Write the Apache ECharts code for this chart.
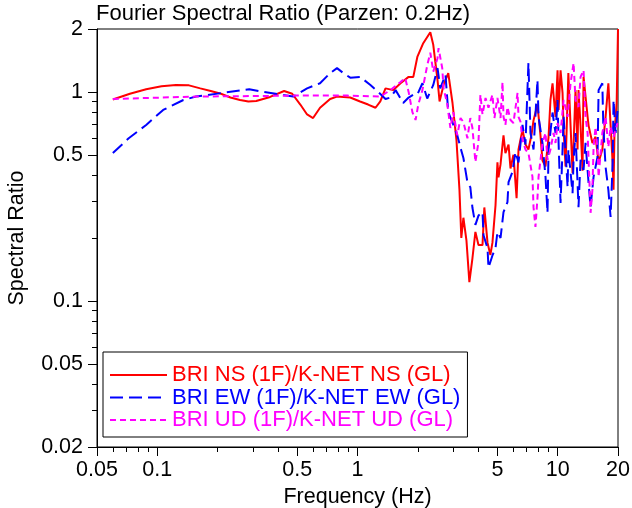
<!DOCTYPE html>
<html>
<head>
<meta charset="utf-8">
<script src="https://cdn.jsdelivr.net/npm/echarts@6/dist/echarts.min.js"></script>
<style>
html,body{margin:0;padding:0;background:#fff;}
#chart{width:632px;height:508px;}
</style>
</head>
<body>
<div id="chart"></div>
<script>
// ---- data ----
const titleText = 'Fourier Spectral Ratio (Parzen: 0.2Hz)';
const xName = 'Frequency (Hz)';
const yName = 'Spectral Ratio';
const seriesNames = ['BRI NS (1F)/K-NET NS (GL)', 'BRI EW (1F)/K-NET EW (GL)', 'BRI UD (1F)/K-NET UD (GL)'];

const xMajorTicks = [0.05, 0.1, 0.5, 1, 5, 10, 20];
const xMinorTicks = [0.06, 0.07, 0.08, 0.09, 0.2, 0.3, 0.4, 0.6, 0.7, 0.8, 0.9, 2, 3, 4, 6, 7, 8, 9];
const yMajorTicks = [0.02, 0.05, 0.1, 0.5, 1, 2];
const yMinorTicks = [0.03, 0.04, 0.06, 0.07, 0.08, 0.09, 0.2, 0.3, 0.4, 0.6, 0.7, 0.8, 0.9];

const nsFreq = [0.06, 0.073, 0.088, 0.105, 0.124, 0.144, 0.164, 0.185, 0.208, 0.232, 0.259, 0.285, 0.312, 0.366, 0.43, 0.472, 0.518, 0.56, 0.60, 0.65, 0.73, 0.79, 0.92, 1.03, 1.13, 1.23, 1.30, 1.38, 1.51, 1.64, 1.80, 1.90, 1.99, 2.13, 2.31, 2.39, 2.51, 2.57, 2.69, 2.84, 2.98, 3.12, 3.23, 3.30, 3.38, 3.50, 3.62, 3.75, 3.88, 4.02, 4.21, 4.30, 4.46, 4.61, 4.72, 4.89, 5.0, 5.06, 5.18, 5.36, 5.48, 5.68, 5.81, 6.01, 6.23, 6.37, 6.67, 6.90, 7.14, 7.39, 7.57, 7.92, 8.20, 8.39, 8.69, 9.0, 9.20, 9.42, 9.75, 9.98, 10.1, 10.33, 10.57, 10.7, 10.94, 11.3, 11.59, 11.86, 12.27, 12.56, 12.7, 13.0, 13.3, 13.46, 14.1, 14.26, 14.9, 15.45, 16.0, 16.7, 17.34, 17.9, 18.37, 18.8, 19.0, 19.2, 19.7, 20];
const nsVal  = [0.92, 0.98, 1.03, 1.065, 1.08, 1.075, 1.04, 1.01, 0.98, 0.94, 0.915, 0.90, 0.905, 0.946, 1.01, 0.98, 0.87, 0.78, 0.75, 0.84, 0.925, 0.95, 0.94, 0.90, 0.87, 0.84, 0.90, 1.04, 1.02, 1.10, 1.18, 1.18, 1.47, 1.71, 1.93, 1.68, 1.14, 0.90, 1.08, 1.23, 0.89, 0.59, 0.34, 0.20, 0.25, 0.195, 0.123, 0.16, 0.214, 0.185, 0.185, 0.28, 0.19, 0.166, 0.19, 0.287, 0.46, 0.39, 0.45, 0.62, 0.51, 0.56, 0.43, 0.50, 0.31, 0.53, 0.66, 0.56, 0.53, 0.62, 0.73, 0.87, 0.62, 0.47, 0.44, 0.61, 0.915, 1.10, 0.76, 1.27, 0.82, 1.27, 0.99, 0.66, 0.44, 1.23, 0.69, 0.41, 1.02, 0.53, 1.02, 0.69, 0.42, 1.18, 0.76, 0.69, 0.57, 0.61, 0.46, 0.53, 0.76, 1.10, 0.69, 0.46, 0.34, 0.63, 0.89, 2.0];

const ewFreq = [0.06, 0.072, 0.088, 0.107, 0.135, 0.156, 0.213, 0.288, 0.338, 0.39, 0.477, 0.56, 0.65, 0.73, 0.79, 0.85, 0.92, 1.03, 1.16, 1.27, 1.38, 1.46, 1.55, 1.60, 1.69, 1.80, 1.90, 1.99, 2.11, 2.23, 2.39, 2.51, 2.59, 2.75, 2.84, 3.01, 3.15, 3.27, 3.38, 3.54, 3.66, 3.75, 3.88, 4.02, 4.21, 4.26, 4.46, 4.51, 4.72, 4.89, 5.0, 5.18, 5.36, 5.61, 5.68, 5.94, 6.15, 6.37, 6.67, 6.90, 7.14, 7.31, 7.57, 7.92, 8.02, 8.39, 8.69, 8.89, 9.0, 9.42, 9.75, 9.98, 10.1, 10.33, 10.57, 10.7, 11.2, 11.3, 11.86, 12.0, 12.27, 12.7, 13.0, 13.46, 13.77, 14.26, 14.59, 15.1, 15.8, 16.0, 16.7, 16.9, 17.34, 17.9, 18.37, 18.8, 19.0, 19.46, 19.9];
const ewVal  = [0.51, 0.60, 0.695, 0.82, 0.915, 0.95, 0.99, 1.03, 1.0, 0.98, 0.95, 1.04, 1.10, 1.23, 1.30, 1.23, 1.17, 1.18, 1.08, 1.0, 0.925, 0.94, 1.02, 0.97, 0.885, 0.94, 0.97, 0.97, 1.10, 0.93, 1.08, 1.30, 1.04, 1.21, 0.80, 0.695, 0.62, 0.54, 0.483, 0.37, 0.35, 0.279, 0.231, 0.256, 0.266, 0.206, 0.179, 0.144, 0.165, 0.179, 0.214, 0.20, 0.266, 0.297, 0.37, 0.414, 0.516, 0.46, 0.695, 0.56, 1.375, 0.636, 0.53, 1.14, 0.76, 0.57, 0.392, 0.264, 0.53, 0.797, 0.636, 0.915, 0.57, 0.294, 0.53, 0.76, 0.35, 0.53, 0.328, 0.473, 0.636, 0.281, 0.473, 0.423, 0.57, 0.366, 0.281, 0.392, 0.488, 1.02, 1.10, 0.68, 0.437, 0.34, 0.252, 0.457, 0.915, 0.636, 0.82];

const udFreq = [0.06, 0.156, 0.494, 0.889, 1.30, 1.46, 1.64, 1.73, 1.80, 1.88, 1.95, 2.01, 2.11, 2.23, 2.31, 2.39, 2.51, 2.54, 2.65, 2.69, 2.81, 2.91, 3.01, 3.15, 3.27, 3.38, 3.54, 3.66, 3.75, 3.88, 4.02, 4.11, 4.21, 4.36, 4.51, 4.72, 4.83, 5.0, 5.18, 5.30, 5.36, 5.48, 5.61, 5.81, 6.01, 6.30, 6.37, 6.52, 6.67, 6.90, 7.14, 7.48, 7.57, 7.74, 7.92, 8.02, 8.39, 8.69, 8.89, 9.20, 9.53, 9.75, 9.98, 10.33, 10.7, 11.2, 11.59, 12.0, 12.27, 12.7, 13.0, 13.46, 13.77, 14.1, 14.26, 14.59, 14.9, 15.1, 15.45, 15.8, 16.0, 16.7, 17.34, 17.9, 18.37, 19.0, 19.9];
const udVal  = [0.925, 0.95, 0.96, 0.96, 0.95, 1.02, 1.115, 1.166, 1.0, 0.80, 0.734, 0.866, 1.02, 1.34, 1.54, 1.25, 1.45, 1.62, 1.30, 1.04, 0.87, 0.672, 0.80, 0.62, 0.75, 0.718, 0.60, 0.75, 0.672, 0.462, 0.576, 0.97, 0.78, 0.935, 0.84, 0.97, 0.75, 0.935, 0.75, 1.115, 0.76, 0.695, 0.847, 0.734, 0.71, 0.99, 0.76, 0.718, 0.59, 0.53, 0.51, 0.392, 0.281, 0.226, 0.31, 0.392, 0.57, 0.636, 0.473, 0.53, 0.636, 0.57, 0.71, 0.636, 0.915, 0.76, 1.10, 1.375, 0.915, 0.847, 1.18, 1.27, 0.76, 0.636, 0.473, 0.264, 0.34, 0.545, 0.68, 0.53, 0.392, 0.636, 0.76, 0.545, 0.68, 0.608, 0.71];

// ---- chart ----
const zip = (a, b) => a.map((v, i) => [v, b[i]]);
const fmt = v => String(+Number(v).toPrecision(3));
const FONT = 'Liberation Sans, Arial, sans-serif';
const FS = 21.5;
const chart = echarts.init(document.getElementById('chart'), null, {renderer: 'canvas'});

const baseAxis = (min, max) => ({type: 'log', logBase: 10, min: min, max: max});

chart.setOption({
  animation: false,
  backgroundColor: '#fff',
  title: {
    text: titleText, left: 96, top: 3, padding: 0,
    textStyle: {fontFamily: FONT, fontSize: 22, fontWeight: 'normal', color: '#000'}
  },
  grid: {left: 97, right: 14, top: 29, bottom: 61, outerBoundsMode: 'none', containLabel: false,
         show: true, borderColor: '#000', borderWidth: 1, backgroundColor: 'transparent'},
  legend: {
    orient: 'vertical', left: 103, top: 352,
    padding: [12, 7, 6, 6], itemGap: 0.5, itemWidth: 57, itemHeight: 14,
    borderColor: '#000', borderWidth: 1, backgroundColor: '#fff',
    itemStyle: {opacity: 0},
    textStyle: {fontFamily: FONT, fontSize: 22, lineHeight: 22},
    data: [
      {name: seriesNames[0], textStyle: {color: '#ff0000'}},
      {name: seriesNames[1], textStyle: {color: '#0000ff'}},
      {name: seriesNames[2], textStyle: {color: '#ff00ff'}}
    ]
  },
  xAxis: [
    Object.assign(baseAxis(0.05, 20), {
      name: xName, nameLocation: 'middle', nameGap: 37,
      nameTextStyle: {fontFamily: FONT, fontSize: FS, color: '#000'},
      axisLine: {show: true, lineStyle: {color: '#000', width: 1}},
      axisTick: {show: true, length: 9, customValues: xMajorTicks, lineStyle: {color: '#000'}},
      axisLabel: {show: true, customValues: xMajorTicks, margin: 12, formatter: fmt, fontFamily: FONT, fontSize: FS, color: '#000'},
      splitLine: {show: false}, minorTick: {show: false}
    }),
    Object.assign(baseAxis(0.05, 20), {
      position: 'bottom',
      axisLine: {show: false},
      axisTick: {show: true, length: 5, customValues: xMinorTicks, lineStyle: {color: '#000'}},
      axisLabel: {show: false},
      splitLine: {show: false}
    })
  ],
  yAxis: [
    Object.assign(baseAxis(0.02, 2), {
      name: yName, nameLocation: 'middle', nameGap: 69,
      nameTextStyle: {fontFamily: FONT, fontSize: FS, color: '#000'},
      axisLine: {show: true, lineStyle: {color: '#000', width: 1}},
      axisTick: {show: true, length: 9, customValues: yMajorTicks, lineStyle: {color: '#000'}},
      axisLabel: {show: true, customValues: yMajorTicks, margin: 14, formatter: fmt, fontFamily: FONT, fontSize: FS, color: '#000'},
      splitLine: {show: false}, minorTick: {show: false}
    }),
    Object.assign(baseAxis(0.02, 2), {
      position: 'left',
      axisLine: {show: false},
      axisTick: {show: true, length: 5, customValues: yMinorTicks, lineStyle: {color: '#000'}},
      axisLabel: {show: false},
      splitLine: {show: false}
    })
  ],
  series: [
    {name: seriesNames[0], type: 'line', symbol: 'none', clip: true, data: zip(nsFreq, nsVal),
     color: '#ff0000', lineStyle: {color: '#ff0000', width: 2, type: 'solid'}},
    {name: seriesNames[1], type: 'line', symbol: 'none', clip: true, data: zip(ewFreq, ewVal),
     color: '#0000ff', lineStyle: {color: '#0000ff', width: 2, type: [13, 6]}},
    {name: seriesNames[2], type: 'line', symbol: 'none', clip: true, data: zip(udFreq, udVal),
     color: '#ff00ff', lineStyle: {color: '#ff00ff', width: 2, type: [6, 4]}}
  ]
});
</script>
</body>
</html>
